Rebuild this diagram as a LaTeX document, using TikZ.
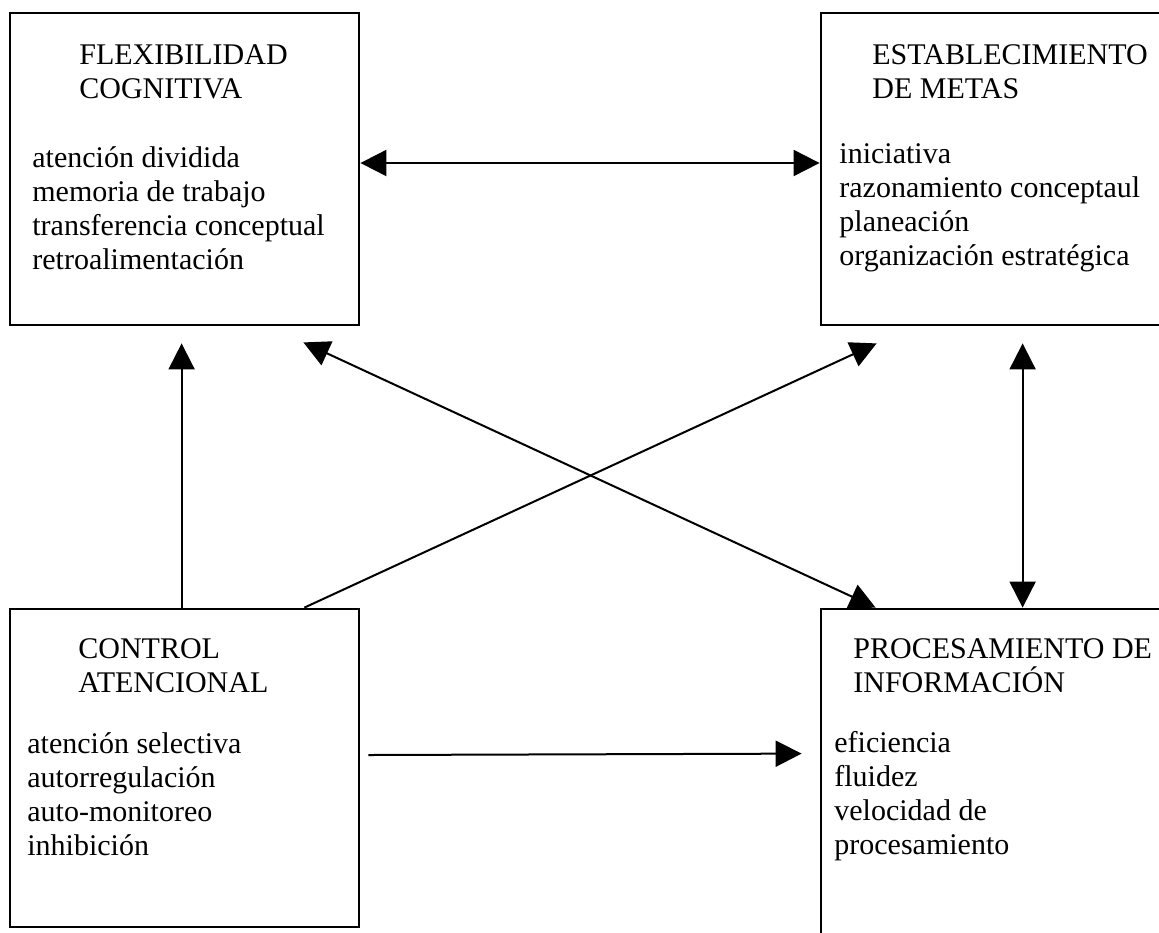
\documentclass[tikz,border=0pt]{standalone}
\usepackage{fontspec}
\setmainfont{Liberation Serif}
\usetikzlibrary{arrows.meta, calc, fit, positioning}

\begin{document}
\begin{tikzpicture}[x=0.5pt, y=-0.5pt,
  box/.style={draw, line width=1.4pt, inner sep=0pt},
  txt/.style={inner sep=0pt, align=left, anchor=base west, font=\fontsize{15}{17}\selectfont},
  link/.style={line width=1pt},
  onehead/.style={-{Triangle[length=13pt, width=13pt]}},
  twohead/.style={{Triangle[length=13pt, width=13pt]}-{Triangle[length=13pt, width=13pt]}}]
\useasboundingbox (0,0) rectangle (1159,932);
\clip (0,0) rectangle (1159,932);
\node[box, fit={(10,13) (359,325)}] (fc) {};
\node[box, fit={(821,13) (1200,325)}] (em) {};
\node[box, fit={(10,609) (359,927)}] (ca) {};
\node[box, fit={(821,609) (1200,980)}] (pi) {};
\node[txt] (fc-title) at (79,98) {FLEXIBILIDAD\\COGNITIVA};
\node[txt] (fc-list) at (32,269) {atención dividida\\memoria de trabajo\\transferencia conceptual\\retroalimentación};
\node[txt] (em-title) at (872,98) {ESTABLECIMIENTO\\DE METAS};
\node[txt] (em-list) at (839,265) {iniciativa\\razonamiento conceptaul\\planeación\\organización estratégica};
\node[txt] (ca-title) at (78,692) {CONTROL\\ATENCIONAL};
\node[txt] (ca-list) at (27,855) {atención selectiva\\autorregulación\\auto-monitoreo\\inhibición};
\node[txt] (pi-title) at (853,692) {PROCESAMIENTO DE\\INFORMACIÓN};
\node[txt] (pi-list) at (834,854) {eficiencia\\fluidez\\velocidad de\\procesamiento};
\draw[link, twohead] ($(fc.east)+(0,-6)$) -- ($(em.west)+(0,-6)$);
\draw[link, onehead] ($(ca.north west)+(173,0)$) -- ($(fc.south west)+(173,17)$);
\draw[link, onehead] ($(ca.north east)+(-56,0)$) -- ($(em.south west)+(57,17)$);
\draw[link, twohead] ($(fc.south east)+(-57,16)$) -- ($(pi.north west)+(56,0)$);
\draw[link, twohead] ($(em.south west)+(203,17)$) -- ($(pi.north west)+(203,0)$);
\draw[link, onehead] ($(ca.east)+(8,-13)$) -- ($(pi.north west)+(-18,146)$);
\end{tikzpicture}
\end{document}
